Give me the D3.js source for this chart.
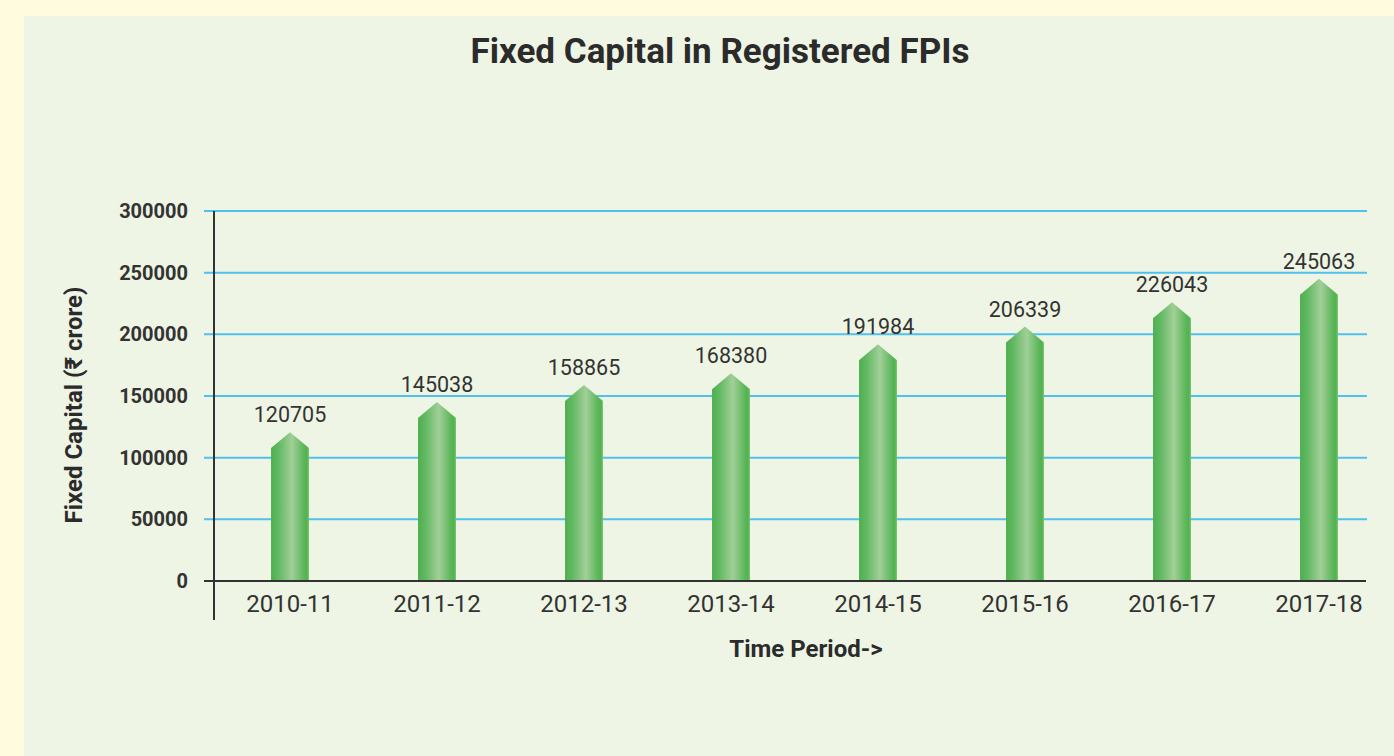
<!DOCTYPE html>
<html>
<head>
<meta charset="utf-8">
<script src="https://cdn.jsdelivr.net/npm/d3@7"></script>
<style>
  html, body { margin: 0; padding: 0; background: #fffbdf; }
  svg { display: block; font-family: Roboto, "Noto Sans", sans-serif; }
</style>
</head>
<body>
<svg id="chart" width="1394" height="756"></svg>
<script>
const categories = ["2010-11", "2011-12", "2012-13", "2013-14", "2014-15", "2015-16", "2016-17", "2017-18"];
const values = [120705, 145038, 158865, 168380, 191984, 206339, 226043, 245063];
const yTicks = [0, 50000, 100000, 150000, 200000, 250000, 300000];
const titleText = "Fixed Capital in Registered FPIs";
const xTitle = "Time Period->";
const yTitle = "Fixed Capital (\u20B9 crore)";

const W = 1394, H = 756;
const svg = d3.select("#chart");

// background panel
svg.append("rect").attr("x", 0).attr("y", 0).attr("width", W).attr("height", H).attr("fill", "#fffbdf");
svg.append("rect").attr("x", 24).attr("y", 16).attr("width", W - 24).attr("height", H - 16).attr("fill", "#eef5e4");

const defs = svg.append("defs");
const grad = defs.append("linearGradient").attr("id", "barGrad").attr("x1", "0%").attr("x2", "100%").attr("y1", "0%").attr("y2", "0%");
[["0%", "#4daf4e"], ["20%", "#62b963"], ["55%", "#a2cf98"], ["85%", "#5fb85d"], ["94%", "#52b24f"], ["100%", "#76c46d"]].forEach(([o, c]) => {
  grad.append("stop").attr("offset", o).attr("stop-color", c);
});

const y = d3.scaleLinear().domain([0, 300000]).range([581, 211]);
const x = d3.scaleBand().domain(categories).range([216.5, 1392.5]).paddingInner(0.742).paddingOuter(0.371);

const gridLeft = 204, gridRight = 1367, axisX = 214;

// gridlines
svg.append("g").selectAll("line").data(yTicks.filter(d => d > 0)).join("line")
  .attr("x1", gridLeft).attr("x2", gridRight)
  .attr("y1", d => y(d)).attr("y2", d => y(d))
  .attr("stroke", "#4fc1ef").attr("stroke-width", 2);

// bars
const bw = x.bandwidth();
const tipH = bw * 0.42;
svg.append("g").selectAll("path").data(values).join("path")
  .attr("d", (v, i) => {
    const x0 = x(categories[i]), x1 = x0 + bw, cx = x0 + bw / 2;
    const yt = y(v), ys = yt + tipH, yb = y(0);
    return `M${x0},${yb}L${x0},${ys}L${cx},${yt}L${x1},${ys}L${x1},${yb}Z`;
  })
  .attr("fill", "url(#barGrad)");

// x axis line
svg.append("line").attr("x1", gridLeft).attr("x2", gridRight - 1).attr("y1", y(0)).attr("y2", y(0))
  .attr("stroke", "#333").attr("stroke-width", 2);
// y axis line
svg.append("line").attr("x1", axisX).attr("x2", axisX).attr("y1", y(300000)).attr("y2", 620)
  .attr("stroke", "#333").attr("stroke-width", 2);

// y tick labels
svg.append("g").selectAll("text").data(yTicks).join("text")
  .attr("x", 188).attr("y", d => y(d) + 7)
  .attr("text-anchor", "end").attr("font-size", 20).attr("font-weight", "bold").attr("fill", "#333")
  .text(d => d);

// x tick labels
svg.append("g").selectAll("text").data(categories).join("text")
  .attr("x", d => x(d) + bw / 2).attr("y", 612)
  .attr("text-anchor", "middle").attr("font-size", 24).attr("fill", "#333")
  .text(d => d);

// value labels
svg.append("g").selectAll("text").data(values).join("text")
  .attr("x", (v, i) => x(categories[i]) + bw / 2).attr("y", v => y(v) - 10)
  .attr("text-anchor", "middle").attr("font-size", 21.5).attr("fill", "#333")
  .text(v => v);

// title
svg.append("text").attr("x", 720).attr("y", 63).attr("text-anchor", "middle")
  .attr("font-size", 35).attr("font-weight", "bold").attr("fill", "#2b2b2b").text(titleText);

// axis titles
svg.append("text").attr("x", 806).attr("y", 657).attr("text-anchor", "middle")
  .attr("font-size", 24).attr("font-weight", "bold").attr("fill", "#2b2b2b").text(xTitle);
svg.append("text").attr("transform", "translate(82,405) rotate(-90)").attr("text-anchor", "middle")
  .attr("font-size", 24).attr("font-weight", "bold").attr("fill", "#2b2b2b").text(yTitle);
</script>
</body>
</html>
